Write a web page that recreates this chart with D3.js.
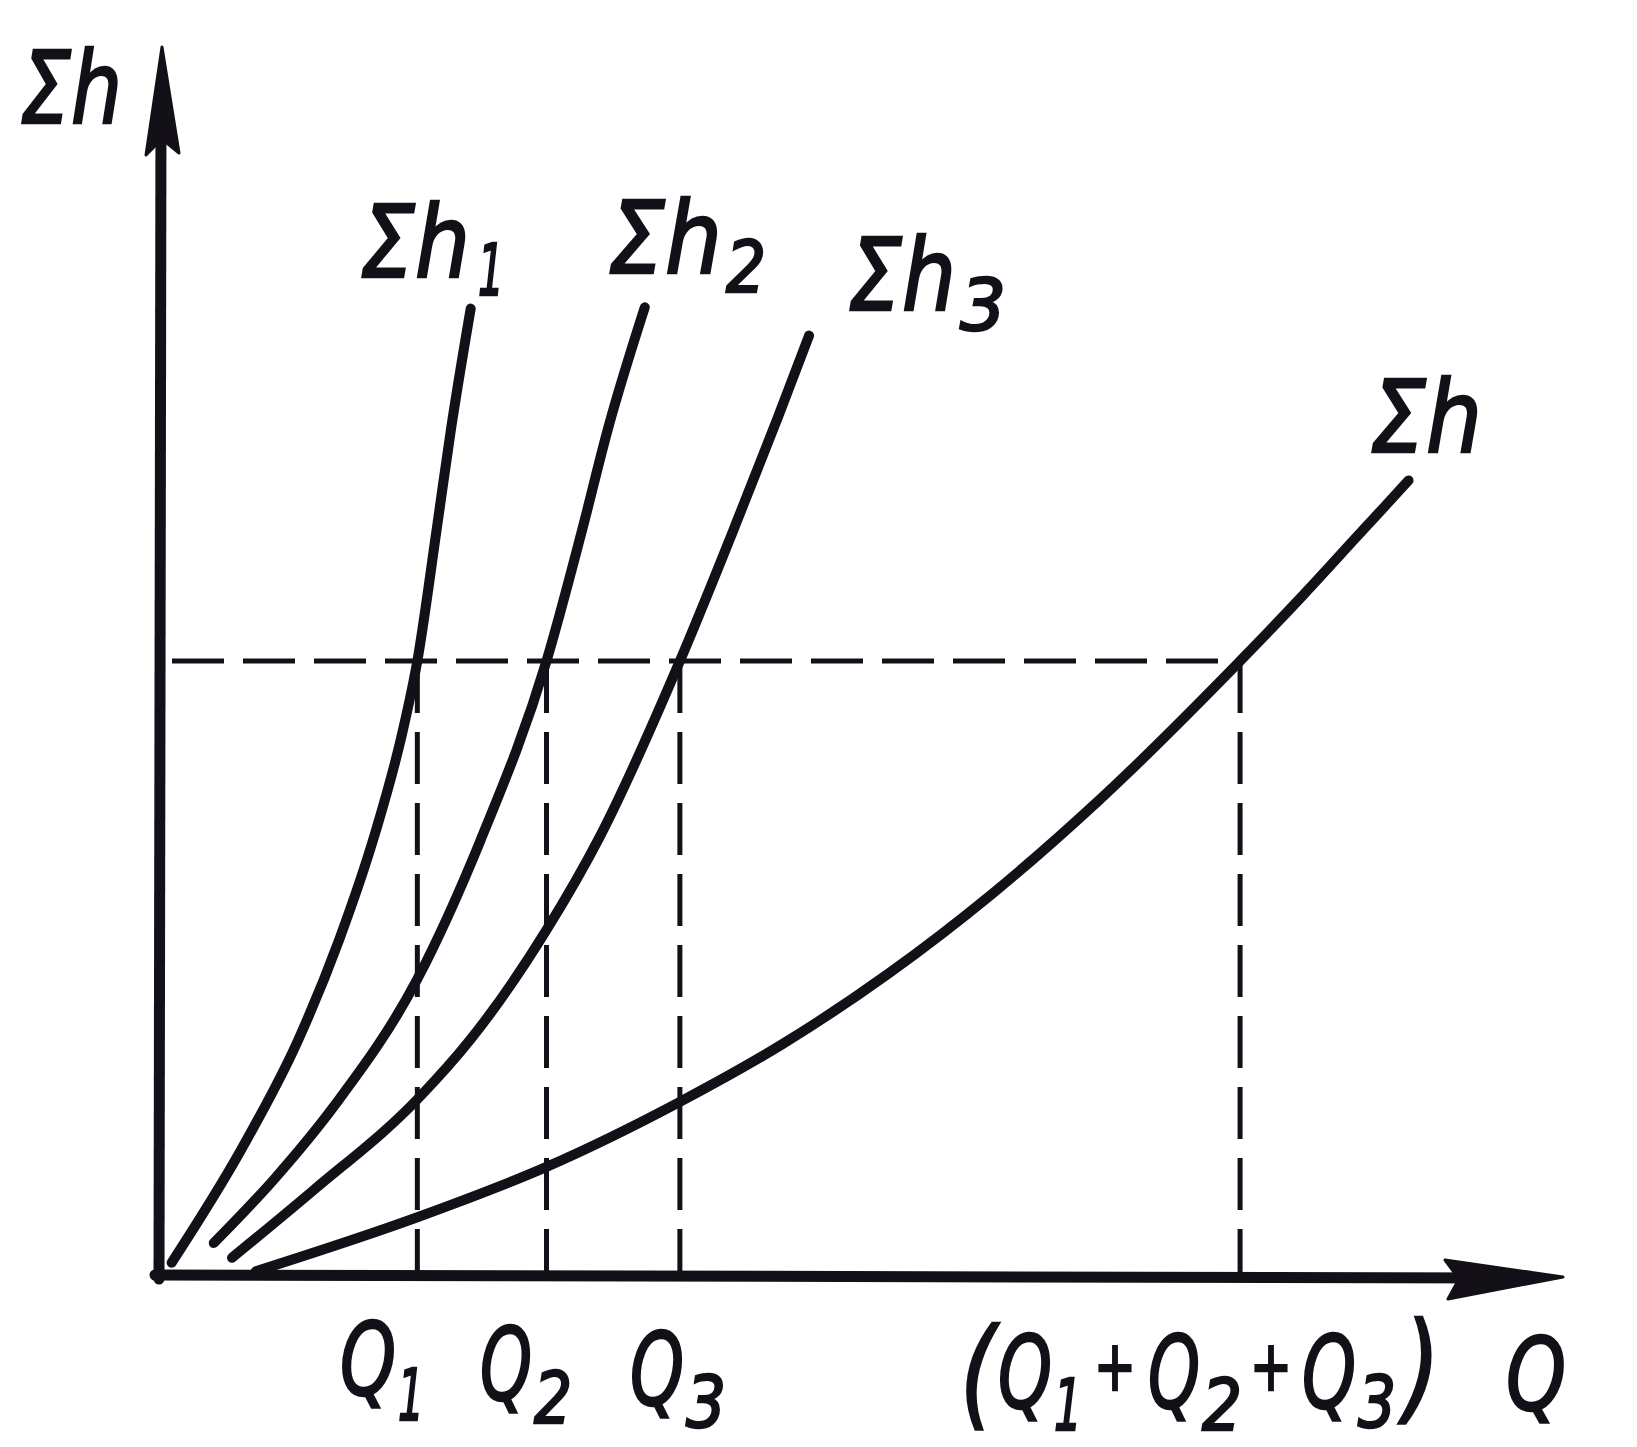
<!DOCTYPE html>
<html>
<head>
<meta charset="utf-8">
<script src="https://cdn.jsdelivr.net/npm/d3@7"></script>
<style>
  html, body { margin: 0; padding: 0; background: #ffffff; }
  svg text { font-family: "DejaVu Sans", "Liberation Sans", sans-serif; font-style: italic; font-weight: normal; fill: #141018; stroke: #141018; stroke-width: 2.5px; }
</style>
</head>
<body>
<svg id="chart" width="1637" height="1447"></svg>
<script>
// ---- data (Q in relative units 0..100, Σh in relative units 0..100) ----
const curveNames = ["Σh1", "Σh2", "Σh3", "Σh"];
const sh1Q = [0.9, 5.9, 9.9, 12.8, 15.4, 17.3, 18.4, 19.8, 20.8, 22.2];
const sh1H = [1.0, 10.3, 19.1, 27.2, 36.0, 44.0, 50.0, 60.9, 68.9, 78.7];
const sh2Q = [3.9, 8.2, 12.5, 18.4, 22.9, 27.6, 30.1, 32.0, 34.6];
const sh2H = [2.6, 7.8, 13.8, 24.1, 35.4, 50.0, 60.5, 69.0, 78.8];
const sh3Q = [5.2, 11.0, 18.4, 22.2, 27.6, 31.4, 37.1, 41.1, 44.1, 46.3];
const sh3H = [1.4, 6.9, 14.3, 19.2, 28.1, 35.7, 50.0, 61.2, 69.9, 76.5];
const shQ  = [6.9, 18.4, 27.6, 37.1, 44.4, 51.9, 59.3, 66.8, 77.0, 81.6, 85.3, 89.0];
const shH  = [0.3, 4.7, 8.8, 14.1, 18.8, 24.5, 31.0, 38.5, 50.0, 55.5, 60.1, 64.7];
const levelH = 50.0;                         // common head Σh
const flowNames = ["Q1", "Q2", "Q3", "Q1+Q2+Q3"];
const flowValues = [18.4, 27.6, 37.1, 77.0]; // Q1, Q2, Q3, Q1+Q2+Q3

// ---- scales ----
const x = d3.scaleLinear().domain([0, 100]).range([159, 1563]);
const y = d3.scaleLinear().domain([0, 100]).range([1275, 47]);

const svg = d3.select("#chart");
const ink = "#141018";

// ---- dashed construction lines ----
const dash = svg.append("g").attr("stroke", ink).attr("stroke-width", 5)
  .attr("stroke-dasharray", "52,19").attr("fill", "none");
dash.append("line")
  .attr("x1", x(0) + 13).attr("x2", x(flowValues[3]))
  .attr("y1", y(levelH)).attr("y2", y(levelH));
flowValues.forEach(v => {
  dash.append("line")
    .attr("x1", x(v)).attr("x2", x(v))
    .attr("y1", y(levelH)).attr("y2", y(0));
});

// ---- axes ----
const axes = svg.append("g").attr("stroke", ink).attr("stroke-linecap", "round");
axes.append("line").attr("x1", x(0)).attr("x2", x(0) + 2)
  .attr("y1", y(0) + 4).attr("y2", y(100) + 60).attr("stroke-width", 11);
axes.append("line").attr("x1", x(0) - 4).attr("x2", x(100) - 60)
  .attr("y1", y(0)).attr("y2", y(0) + 3).attr("stroke-width", 11);
// arrowheads
const yt = [x(0) + 3, y(100)];
svg.append("path").attr("fill", ink).attr("stroke", ink).attr("stroke-width", 3).attr("stroke-linejoin", "round")
  .attr("d", `M${yt[0]},${yt[1]} L${yt[0] + 17},${yt[1] + 106} L${yt[0]},${yt[1] + 92} L${yt[0] - 16},${yt[1] + 108} Z`);
const xt = [x(100), y(0) + 2];
svg.append("path").attr("fill", ink).attr("stroke", ink).attr("stroke-width", 3).attr("stroke-linejoin", "round")
  .attr("d", `M${xt[0]},${xt[1]} L${xt[0] - 118},${xt[1] - 17} L${xt[0] - 104},${xt[1] + 2} L${xt[0] - 115},${xt[1] + 22} Z`);

// ---- curves ----
const line = d3.line().x(d => x(d[0])).y(d => y(d[1])).curve(d3.curveMonotoneX);
const series = [[sh1Q, sh1H], [sh2Q, sh2H], [sh3Q, sh3H], [shQ, shH]];
svg.append("g").selectAll("path").data(series).join("path")
  .attr("d", s => line(d3.zip(s[0], s[1])))
  .attr("fill", "none").attr("stroke", ink).attr("stroke-width", 10)
  .attr("stroke-linecap", "round").attr("stroke-linejoin", "round");

// ---- labels (horizontally scaled to the reference's narrow lettering) ----
function label(px, py, txt, size, len) {
  const t = svg.append("text").attr("x", 0).attr("y", 0).attr("font-size", size).text(txt);
  const w = t.node().getComputedTextLength();
  const sx = len && w > 0 ? len / w : 1;
  t.attr("transform", `translate(${px},${py}) scale(${sx},1)`);
  return t;
}
// axis titles
label(20, 123, "Σh", 100, 102);
label(1506, 1410, "Q", 100, 60);
// curve labels
label(360, 277, "Σh", 100, 110); label(478, 295, "1", 72, 26);
label(608, 273, "Σh", 100, 114); label(726, 292, "2", 72, 40);
label(848, 310, "Σh", 100, 108); label(960, 330, "3", 72, 46);
label(1370, 452, "Σh", 100, 112);
// flow labels
label(340, 1395, "Q", 100, 56); label(398, 1420, "1", 72, 26);
label(480, 1400, "Q", 100, 52); label(534, 1423, "2", 72, 38);
label(630, 1405, "Q", 100, 54); label(686, 1427, "3", 72, 40);
// sum label
label(960, 1414, "(", 120, 36);
label(998, 1408, "Q", 100, 54); label(1054, 1430, "1", 72, 28);
label(1094, 1390, "+", 70, 42);
label(1148, 1408, "Q", 100, 52); label(1202, 1430, "2", 72, 40);
label(1250, 1390, "+", 70, 42);
label(1302, 1408, "Q", 100, 54); label(1358, 1427, "3", 72, 38);
label(1404, 1408, ")", 120, 36);
</script>
</body>
</html>
